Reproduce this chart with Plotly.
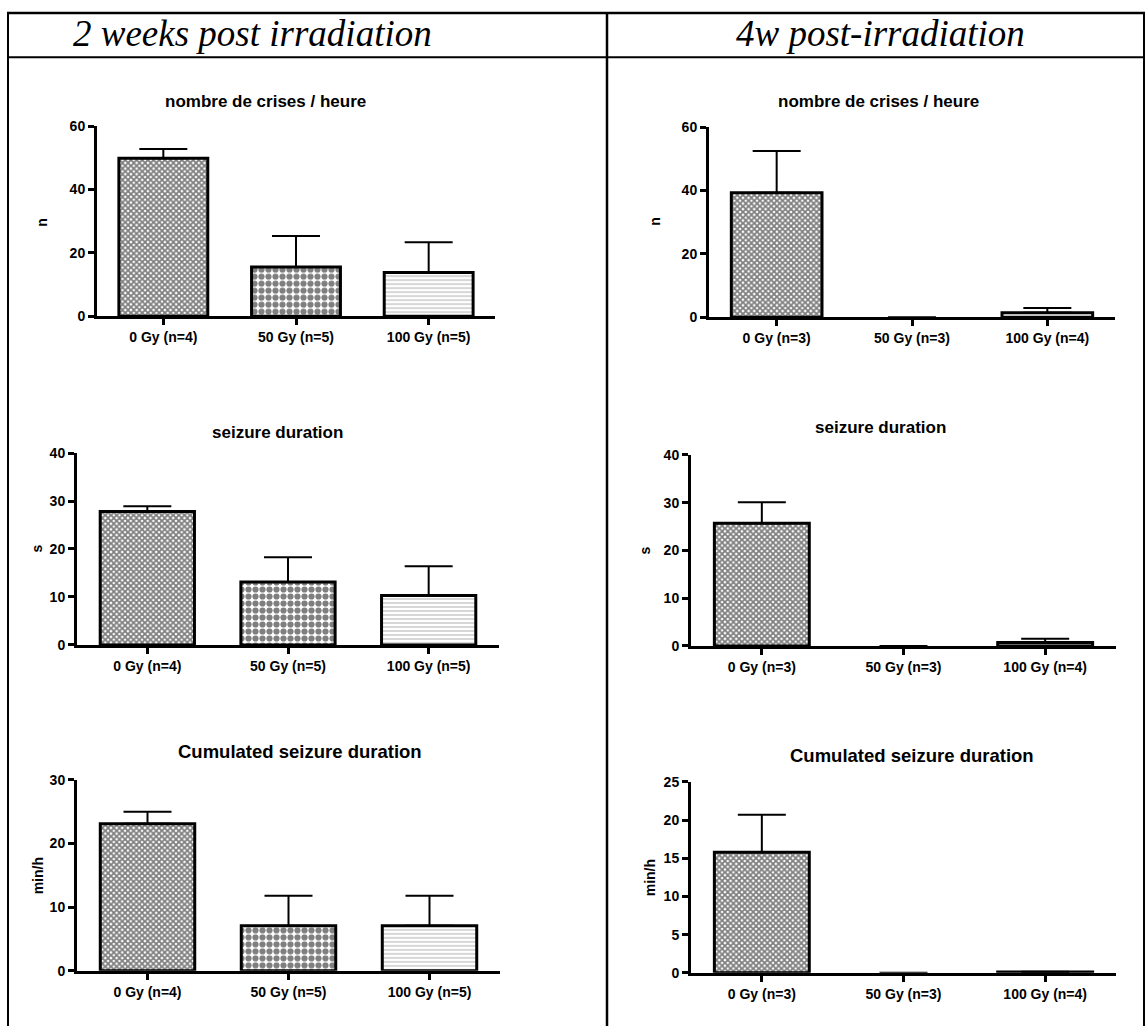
import plotly.graph_objects as go

W, H = 1145, 1034

# ---------------- data ----------------
col_titles = ["2 weeks post irradiation", "4w post-irradiation"]
chart_titles = ["nombre de crises / heure", "seizure duration", "Cumulated seizure duration"]
y_titles = ["n", "s", "min/h"]
cats_2w = ["0 Gy (n=4)", "50 Gy (n=5)", "100 Gy (n=5)"]
cats_4w = ["0 Gy (n=3)", "50 Gy (n=3)", "100 Gy (n=4)"]

crises_2w = [49.9, 15.5, 13.8]
crises_2w_err = [2.9, 9.8, 9.5]
duration_2w = [27.8, 13.1, 10.3]
duration_2w_err = [1.1, 5.2, 6.1]
cumul_2w = [23.1, 7.1, 7.1]
cumul_2w_err = [1.9, 4.7, 4.7]

crises_4w = [39.3, 0.0, 1.4]
crises_4w_err = [13.2, 0.0, 1.5]
duration_4w = [25.7, 0.0, 0.75]
duration_4w_err = [4.4, 0.0, 0.75]
cumul_4w = [15.8, 0.0, 0.1]
cumul_4w_err = [4.9, 0.0, 0.05]

ymax_2w = [60, 40, 30]
dtick_2w = [20, 10, 10]
ymax_4w = [60, 40, 25]
dtick_4w = [20, 10, 5]

# ---------------- layout geometry (pixels) ----------------
# (x_left, x_right, y_top, y_bottom)
boxes = [
    (97, 495, 120, 313), (77, 499, 452, 647), (77, 500, 784, 978),
    (709, 1115, 121, 314), (691, 1116, 454, 648), (691, 1116, 786, 980),
]
title_pos = [(265, 95), (277, 431), (300, 755), (878, 95), (880, 426), (912, 759)]
title_size = [17, 17, 18.5]
ytitle_pos = [(42, 217), (37, 549), (38, 882), (655, 217), (645, 551), (650, 884)]
header_pos = [(252, 26), (880, 26)]

def px(x):
    return x / W

def py(y):
    return 1 - y / H

pattern_shapes = ["x", ".", "-"]
pattern_sizes = [4, 7, 4]
pattern_solid = [0.7, 0.62, 0.3]
pattern_fg = ["#000000", "#000000", "#777777"]

fig = go.Figure()

panels = [
    (cats_2w, crises_2w, crises_2w_err, ymax_2w[0], dtick_2w[0]),
    (cats_2w, duration_2w, duration_2w_err, ymax_2w[1], dtick_2w[1]),
    (cats_2w, cumul_2w, cumul_2w_err, ymax_2w[2], dtick_2w[2]),
    (cats_4w, crises_4w, crises_4w_err, ymax_4w[0], dtick_4w[0]),
    (cats_4w, duration_4w, duration_4w_err, ymax_4w[1], dtick_4w[1]),
    (cats_4w, cumul_4w, cumul_4w_err, ymax_4w[2], dtick_4w[2]),
]

annotations = []
for i, (cats, vals, errs, ymax, dt) in enumerate(panels):
    n = i + 1
    xa = "x" if n == 1 else f"x{n}"
    ya = "y" if n == 1 else f"y{n}"
    line_w = [3 if v > 0 else 0 for v in vals]
    fig.add_trace(go.Bar(
        x=cats, y=vals, xaxis=xa, yaxis=ya, width=0.67,
        marker=dict(
            color="white",
            line=dict(color="black", width=line_w),
            pattern=dict(shape=pattern_shapes, size=pattern_sizes,
                         solidity=pattern_solid, fgcolor=pattern_fg,
                         bgcolor="white", fillmode="overlay"),
        ),
        error_y=dict(type="data", array=errs, arrayminus=[0] * len(errs),
                     symmetric=False, color="black", thickness=2, width=24),
        showlegend=False, hoverinfo="skip",
    ))
    x0, x1, yt, yb = boxes[i]
    axis_common = dict(showline=True, linecolor="black", linewidth=3,
                       ticks="outside", ticklen=6, tickwidth=2.5, tickcolor="black",
                       showgrid=False, zeroline=False,
                       tickfont=dict(family="Liberation Sans", size=14, color="black", weight="bold"))
    fig.layout[("xaxis" if n == 1 else f"xaxis{n}")] = dict(
        domain=[px(x0), px(x1)], anchor=ya, type="category",
        range=[-0.5, 2.5], **axis_common)
    fig.layout[("yaxis" if n == 1 else f"yaxis{n}")] = dict(
        domain=[py(yb), py(yt)], anchor=xa, range=[0, ymax], dtick=dt,
        **axis_common)
    tx, ty = title_pos[i]
    annotations.append(dict(text=chart_titles[i % 3], x=px(tx), y=py(ty),
                            xref="paper", yref="paper", showarrow=False,
                            xanchor="center", yanchor="middle",
                            font=dict(family="Liberation Sans", size=title_size[i % 3],
                                      color="black", weight="bold")))
    ax, ay = ytitle_pos[i]
    annotations.append(dict(text=y_titles[i % 3], x=px(ax), y=py(ay),
                            xref="paper", yref="paper", showarrow=False, textangle=-90,
                            xanchor="center", yanchor="middle",
                            font=dict(family="Liberation Sans", size=14, color="black", weight="bold")))

for j, t in enumerate(col_titles):
    hx, hy = header_pos[j]
    annotations.append(dict(text=t, x=px(hx), y=py(hy), xref="paper", yref="paper",
                            showarrow=False, xanchor="center", yanchor="middle",
                            font=dict(family="Liberation Serif", size=37, color="black", style="italic")))

shapes = []
def hline(y, xa, xb, w=2):
    shapes.append(dict(type="line", xref="paper", yref="paper",
                       x0=px(xa), x1=px(xb), y0=py(y), y1=py(y),
                       line=dict(color="black", width=w)))
def vline(x, ya, yb, w=2):
    shapes.append(dict(type="line", xref="paper", yref="paper",
                       x0=px(x), x1=px(x), y0=py(ya), y1=py(yb),
                       line=dict(color="black", width=w)))

hline(5, 7, 1145, 2.5)
hline(50, 7, 1145, 2)
vline(8, 4, 1034, 2)
vline(607, 4, 1034, 2.5)
vline(1144, 4, 1034, 2)

fig.update_layout(width=W, height=H, autosize=False,
                  margin=dict(l=0, r=0, t=0, b=0),
                  paper_bgcolor="white", plot_bgcolor="white",
                  annotations=annotations, shapes=shapes)

fig.write_html("out.html", config={"displayModeBar": False},
               post_script="document.body.style.margin='0px';document.body.style.padding='0px';")
